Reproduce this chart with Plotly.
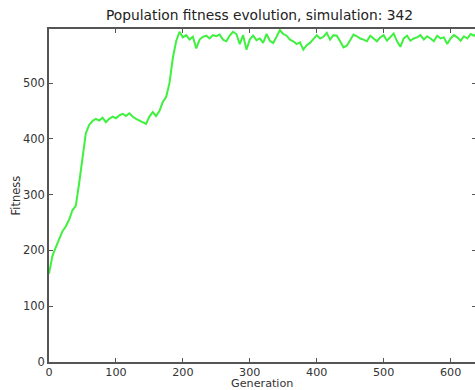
import plotly.graph_objects as go

generations = list(range(0, 645, 5))
fitness = [158, 190, 205, 220, 234, 243, 255, 272, 280, 320,
           370, 410, 425, 432, 436, 433, 438, 430, 436, 440,
           437, 442, 445, 441, 446, 440, 436, 433, 430, 427,
           440, 448, 441, 450, 466, 475, 500, 545, 575, 592,
           582, 586, 578, 583, 562, 578, 583, 585, 580, 586,
           584, 587, 578, 575, 585, 592, 588, 570, 586, 560,
           578, 585, 577, 580, 572, 588, 576, 572, 583, 595,
           588, 585, 578, 575, 570, 573, 560, 568, 572, 580,
           586, 580, 583, 590, 578, 586, 585, 575, 564, 567,
           577, 587, 584, 580, 578, 575, 585, 580, 575, 582,
           586, 576, 582, 589, 575, 565, 580, 585, 576, 580,
           582, 586, 578, 584, 580, 575, 585, 580, 582, 570,
           580, 586, 582, 576, 584, 580, 588, 585, 590]

x_ticks = [0, 100, 200, 300, 400, 500, 600]
y_ticks = [0, 100, 200, 300, 400, 500]

title_text = "Population fitness evolution, simulation: 342"
x_label = "Generation"
y_label = "Fitness"

font = "DejaVu Sans"
axis_color = "#555555"

fig = go.Figure()
fig.add_trace(go.Scatter(x=generations, y=fitness, mode="lines",
                         line=dict(color="#3ff03f", width=2),
                         showlegend=False, hoverinfo="skip"))

fig.update_layout(
    width=478, height=390,
    margin=dict(l=49, r=0, t=29, b=28),
    paper_bgcolor="white", plot_bgcolor="white",
    font=dict(family=font, size=11.5, color="#333333"),
    annotations=[
        dict(text=title_text, xref="paper", yref="paper", x=0.494, y=1.0,
             yshift=4, xanchor="center", yanchor="bottom", showarrow=False,
             font=dict(family=font, size=13.8, color="#222222")),
        dict(text=x_label, xref="paper", yref="paper", x=0.499, y=0,
             yshift=-14, xanchor="center", yanchor="top", showarrow=False,
             borderpad=0,
             font=dict(family=font, size=11.2, color="#333333")),
        dict(text=y_label, xref="paper", yref="paper", x=0, y=0.5,
             xshift=-43, xanchor="left", yanchor="middle", showarrow=False,
             textangle=-90,
             font=dict(family=font, size=11.5, color="#333333")),
    ],
)

fig.update_xaxes(range=[0, 638], tickvals=x_ticks, ticks="inside", ticklen=4,
                 tickcolor=axis_color, showline=True, linecolor=axis_color,
                 linewidth=1.5, mirror="ticks", showgrid=False, zeroline=False,
                 ticklabelstandoff=-1,
                 tickfont=dict(size=11.2, color="#333333"))
fig.update_yaxes(range=[0, 597], tickvals=y_ticks, ticks="inside", ticklen=4,
                 tickcolor=axis_color, showline=True, linecolor=axis_color,
                 linewidth=1.5, mirror="ticks", showgrid=False, zeroline=False,
                 tickfont=dict(size=11.5, color="#333333"))

fig.write_html("out.html", config={"displayModeBar": False},
               post_script="document.body.style.margin='0px';document.body.style.overflow='hidden';")
